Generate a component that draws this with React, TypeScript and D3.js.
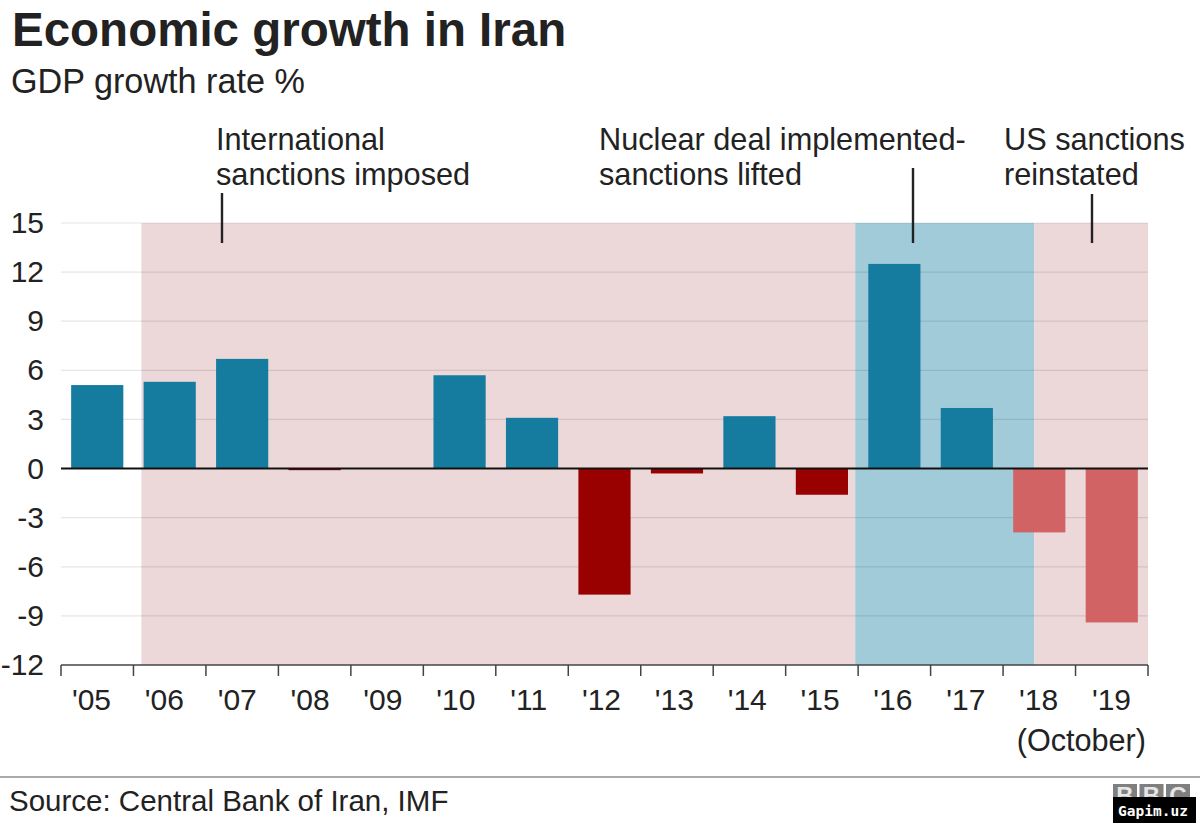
import { useEffect, useRef } from 'react';
import * as d3 from 'd3';

const years = ["'05", "'06", "'07", "'08", "'09", "'10", "'11", "'12", "'13", "'14", "'15", "'16", "'17", "'18", "'19"];
const growth = [5.1, 5.3, 6.7, -0.1, 0, 5.7, 3.1, -7.7, -0.3, 3.2, -1.6, 12.5, 3.7, -3.9, -9.4];
const yTicks = [15, 12, 9, 6, 3, 0, -3, -6, -9, -12];
// the last two years are the lighter red in the original
const lighterYears = ["'18", "'19"];

// sanction periods, in units of bars from the left of the axis
const periodStart = [1.11, 10.96, 13.43];
const periodEnd = [10.96, 13.43, 15];
const periodKind = ['sanctions', 'lifted', 'sanctions'];

const width = 1200;
const height = 827;
const font = '"Liberation Sans", Arial, sans-serif';
const textColor = '#222222';

export default function App() {
  const svgRef = useRef<SVGSVGElement>(null);

  useEffect(() => {
    if (!svgRef.current) return;
    const svg = d3.select(svgRef.current);
    svg.selectAll('*').remove();

    const margin = { top: 223, right: 52, bottom: 162, left: 61 };
    const innerWidth = width - margin.left - margin.right;
    const innerHeight = height - margin.top - margin.bottom;

    const x = d3.scaleLinear().domain([0, years.length]).range([0, innerWidth]);
    const band = d3.scaleBand().domain(years).range([0, innerWidth]).paddingInner(0.28).paddingOuter(0.14);
    const y = d3.scaleLinear().domain([15, -12]).range([0, innerHeight]);
    // the year labels drift slightly against the bars in the original
    const labelX = d3.scalePoint().domain(years).range([30.5, 1050.5]);

    const g = svg.append('g').attr('transform', `translate(${margin.left},${margin.top})`);

    // Shaded periods
    g.selectAll('.period')
      .data(periodKind)
      .enter()
      .append('rect')
      .attr('class', 'period')
      .attr('x', (_d, i) => x(periodStart[i]))
      .attr('width', (_d, i) => x(periodEnd[i]) - x(periodStart[i]))
      .attr('y', 0)
      .attr('height', innerHeight)
      .attr('fill', (d) => (d === 'lifted' ? '#a1cbd9' : '#ecd8d9'));

    // Gridlines
    g.selectAll('.grid')
      .data(yTicks.filter((d) => d !== 0 && d !== -12))
      .enter()
      .append('line')
      .attr('class', 'grid')
      .attr('x1', 0)
      .attr('x2', innerWidth)
      .attr('y1', (d) => y(d))
      .attr('y2', (d) => y(d))
      .attr('stroke', '#000')
      .attr('stroke-opacity', 0.1)
      .attr('stroke-width', 1.2);

    // Bars
    g.selectAll('.bar')
      .data(growth)
      .enter()
      .append('rect')
      .attr('class', 'bar')
      .attr('x', (_d, i) => band(years[i]) ?? 0)
      .attr('width', band.bandwidth())
      .attr('y', (d) => y(Math.max(d, 0)))
      .attr('height', (d) => Math.abs(y(d) - y(0)))
      .attr('fill', (d, i) => {
        if (d >= 0) return '#167c9f';
        return lighterYears.includes(years[i]) ? '#d16364' : '#990000';
      });

    // Zero line
    g.append('line')
      .attr('x1', 0)
      .attr('x2', innerWidth)
      .attr('y1', y(0))
      .attr('y2', y(0))
      .attr('stroke', '#111')
      .attr('stroke-width', 2);

    // Y axis labels
    const yAxis = g
      .append('g')
      .call(d3.axisLeft(y).tickValues(yTicks).tickSize(0).tickPadding(17).tickFormat((d) => String(d)));
    yAxis.select('.domain').remove();
    yAxis
      .selectAll('text')
      .attr('font-family', font)
      .attr('font-size', 30)
      .attr('fill', textColor);

    // X axis, ticks sit between the bars
    const xAxis = g
      .append('g')
      .attr('transform', `translate(0,${innerHeight})`)
      .call(d3.axisBottom(x).offset(0).tickValues(d3.range(years.length + 1)).tickSize(11).tickSizeOuter(0).tickFormat(() => ''));
    xAxis.select('.domain').attr('stroke', '#444').attr('stroke-width', 1.5);
    xAxis.selectAll('line').attr('stroke', '#444').attr('stroke-width', 1.5);

    // Year labels
    g.selectAll('.year')
      .data(years)
      .enter()
      .append('text')
      .attr('class', 'year')
      .attr('x', (d) => labelX(d) ?? 0)
      .attr('y', innerHeight + 45)
      .attr('text-anchor', 'middle')
      .attr('font-family', font)
      .attr('font-size', 30)
      .attr('fill', textColor)
      .text((d) => d);

    const addText = (
      txt: string,
      tx: number,
      ty: number,
      size: number,
      opts: { weight?: string; anchor?: string; color?: string } = {},
    ) =>
      svg
        .append('text')
        .attr('x', tx)
        .attr('y', ty)
        .attr('font-family', font)
        .attr('font-size', size)
        .attr('font-weight', opts.weight ?? 'normal')
        .attr('text-anchor', opts.anchor ?? 'start')
        .attr('fill', opts.color ?? textColor)
        .text(txt);

    addText('(October)', 1146, 751, 30.6, { anchor: 'end' });

    // Titles
    addText('Economic growth in Iran', 12, 46, 47.5, { weight: 'bold' });
    addText('GDP growth rate %', 11, 93, 34.2);

    // Annotations
    addText('International', 216, 150, 30.7);
    addText('sanctions imposed', 216, 185, 30.7);
    addText('Nuclear deal implemented-', 599, 150, 30.7);
    addText('sanctions lifted', 599, 185, 30.7);
    addText('US sanctions', 1004, 150, 30.7);
    addText('reinstated', 1004, 185, 30.7);

    const leaders = [
      { lx: 222, top: 193 },
      { lx: 913, top: 168 },
      { lx: 1092, top: 194 },
    ];
    svg
      .selectAll('.leader')
      .data(leaders)
      .enter()
      .append('line')
      .attr('class', 'leader')
      .attr('x1', (d) => d.lx)
      .attr('x2', (d) => d.lx)
      .attr('y1', (d) => d.top)
      .attr('y2', 243)
      .attr('stroke', '#222')
      .attr('stroke-width', 2.4);

    // Footer
    svg
      .append('line')
      .attr('x1', 0)
      .attr('x2', width)
      .attr('y1', 777)
      .attr('y2', 777)
      .attr('stroke', '#aaa')
      .attr('stroke-width', 2);
    addText('Source: Central Bank of Iran, IMF', 9, 811, 29.5);

    // BBC blocks
    ['B', 'B', 'C'].forEach((letter, i) => {
      const bx = 1113 + i * 26.5;
      svg.append('rect').attr('x', bx).attr('y', 784).attr('width', 24).attr('height', 22).attr('fill', '#7f7f7f');
      addText(letter, bx + 12, 804, 24, { weight: 'bold', anchor: 'middle', color: '#e6e6e6' });
    });

    // Watermark
    svg.append('rect').attr('x', 1113).attr('y', 797).attr('width', 83).attr('height', 26).attr('fill', '#000');
    addText('Gapim.uz', 1153, 816, 14.5, { anchor: 'middle', color: '#fff', weight: 'bold' }).attr('font-family', '"DejaVu Sans Mono", monospace');
  }, []);

  return <svg ref={svgRef} width={width} height={height} style={{ position: 'absolute', left: 0, top: 0, background: '#fff' }} />;
}
